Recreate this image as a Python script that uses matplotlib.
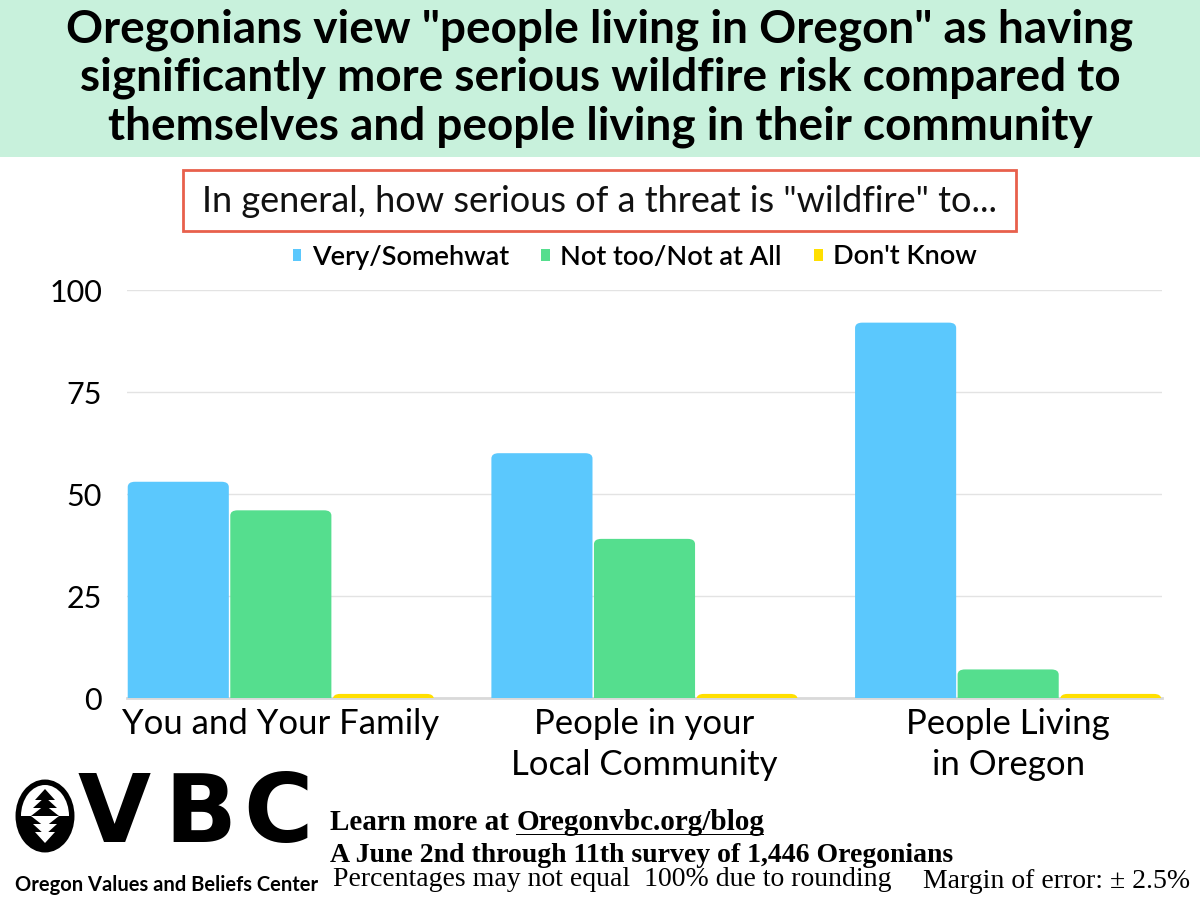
import matplotlib
matplotlib.use("Agg")
import matplotlib.pyplot as plt
import numpy as np
from matplotlib.patches import Rectangle, Ellipse, Polygon, FancyBboxPatch, Patch

categories = ["You and Your Family", "People in your\nLocal Community", "People Living\nin Oregon"]
series_names = ["Very/Somehwat", "Not too/Not at All", "Don't Know"]
very = [53, 60, 92]
not_too = [46, 39, 7]
dont_know = [1, 1, 1]
y_ticks = [0, 25, 50, 75, 100]
colors = ["#5bc8fd", "#55de8e", "#ffdf00"]

plt.rcParams['font.family'] = ['Lato', 'DejaVu Sans']

fig = plt.figure(figsize=(12, 9), dpi=100)
fig.patch.set_facecolor("white")

# title banner
fig.patches.append(Rectangle((0, 1 - 157 / 900), 1, 157 / 900, transform=fig.transFigure,
                             facecolor="#c8f1dc", edgecolor="none", zorder=0))
fig.text(0.5, 1 - 78 / 900,
         'Oregonians view "people living in Oregon" as having\n'
         'significantly more serious wildfire risk compared to\n'
         'themselves and people living in their community',
         ha="center", va="center", fontsize=33, fontweight="bold", linespacing=1.17)

# question box
fig.patches.append(Rectangle((183 / 1200, 1 - 231 / 900), (1016 - 183) / 1200, 61 / 900,
                             transform=fig.transFigure, facecolor="white",
                             edgecolor="#e8604c", linewidth=2))
fig.text(600 / 1200, 1 - 201 / 900, 'In general, how serious of a threat is "wildfire" to...',
         ha="center", va="center", fontsize=26, color="#111111")

ax = fig.add_axes([127 / 1200, 1 - 698 / 900, 1035 / 1200, 408 / 900])
x = np.arange(len(categories))
w = 0.282
for i, vals in enumerate([very, not_too, dont_know]):
    bars = ax.bar(x + (i - 1) * w, vals, width=w - 0.004, color=colors[i], zorder=3)
    # rounded tops: redraw each bar as a rounded box, bottom pushed below the axis
    for b in bars:
        b.set_visible(False)
        ax.add_patch(FancyBboxPatch((b.get_x(), -3), b.get_width(), b.get_height() + 3,
                                    boxstyle="round,pad=0,rounding_size=0.02",
                                    mutation_aspect=1.3 / 0.02, facecolor=colors[i],
                                    edgecolor="none", zorder=3, clip_on=True))

ax.set_ylim(0, 100)
ax.set_xlim(-1.5 * w, 2 + 1.5 * w)
ax.set_yticks(y_ticks)
ax.set_yticklabels([str(t) for t in y_ticks], fontsize=22)
ax.tick_params(axis="y", length=0, pad=18)
ax.set_xticks(x)
ax.set_xticklabels(categories, fontsize=25, linespacing=1.35)
ax.tick_params(axis="x", length=0, pad=7)
ax.grid(axis="y", color="#e3e3e3", linewidth=1, zorder=0)
for s in ["top", "right", "left"]:
    ax.spines[s].set_visible(False)
ax.spines["bottom"].set_color("#d9d9d9")
ax.spines["bottom"].set_linewidth(2)
ax.spines["bottom"].set_zorder(2)

handles = [Patch(facecolor=c, edgecolor="none") for c in colors]
leg = fig.legend(handles, series_names, loc="center", bbox_to_anchor=(635 / 1200, 1 - 257 / 900),
                 ncol=3, frameon=False, fontsize=19.5, handlelength=0.3, handleheight=0.3,
                 handletextpad=0.4, columnspacing=1.2)
for t in leg.get_texts():
    t.set_fontweight("semibold")

# logo
lax = fig.add_axes([10 / 1200, 1 - 900 / 900, 320 / 1200, 130 / 900])
lax.set_xlim(10, 330)
lax.set_ylim(900, 770)
lax.axis("off")
lax.add_patch(Ellipse((45, 816), 52, 66, facecolor="black", edgecolor="black", lw=5))
top = Ellipse((45, 816), 48, 62, facecolor="white", edgecolor="none")
lax.add_patch(top)
top.set_clip_path(Rectangle((0, 770), 100, 46, transform=lax.transData))
for k in range(3):
    y0 = 789 + k * 8
    lax.add_patch(Polygon([[45, y0], [35 - k * 2, y0 + 11], [55 + k * 2, y0 + 11]], facecolor="black"))
    y1 = 843 - k * 8
    lax.add_patch(Polygon([[45, y1], [35 - k * 2, y1 - 11], [55 + k * 2, y1 - 11]], facecolor="white"))
lax.add_patch(Rectangle((43, 812), 4, 4, facecolor="black"))
for letter, cx in zip("VBC", [114, 200, 278]):
    lax.text(cx, 816, letter, ha="center", va="center", fontsize=68, fontweight="heavy",
             family=['DejaVu Sans'])
lax.text(167, 885, "Oregon Values and Beliefs Center", ha="center", va="center", fontsize=14.5,
         fontweight="bold")

serif = ['Liberation Serif', 'DejaVu Serif']
t1 = fig.text(330 / 1200, 1 - 822 / 900, "Learn more at ", family=serif, fontsize=21,
              fontweight="bold", va="center")
fig.canvas.draw()
bb = t1.get_window_extent()
t2 = fig.text(bb.x1 / 1200, 1 - 822 / 900, "Oregonvbc.org/blog", family=serif, fontsize=21,
              fontweight="bold", va="center")
fig.canvas.draw()
bb2 = t2.get_window_extent()
fig.patches.append(Rectangle((bb.x1 / 1200, 1 - 835 / 900), (bb2.x1 - bb.x1) / 1200, 1.5 / 900,
                             transform=fig.transFigure, facecolor="black"))
fig.text(330 / 1200, 1 - 855 / 900, "A June 2nd through 11th survey of 1,446 Oregonians",
         family=serif, fontsize=20, fontweight="bold", va="center")
fig.text(333 / 1200, 1 - 879 / 900, "Percentages may not equal  100% due to rounding",
         family=serif, fontsize=20, va="center")
fig.text(1190 / 1200, 1 - 882 / 900, "Margin of error: \u00b1 2.5%",
         family=serif, fontsize=20, va="center", ha="right")

fig.savefig("out.png", dpi=100)
